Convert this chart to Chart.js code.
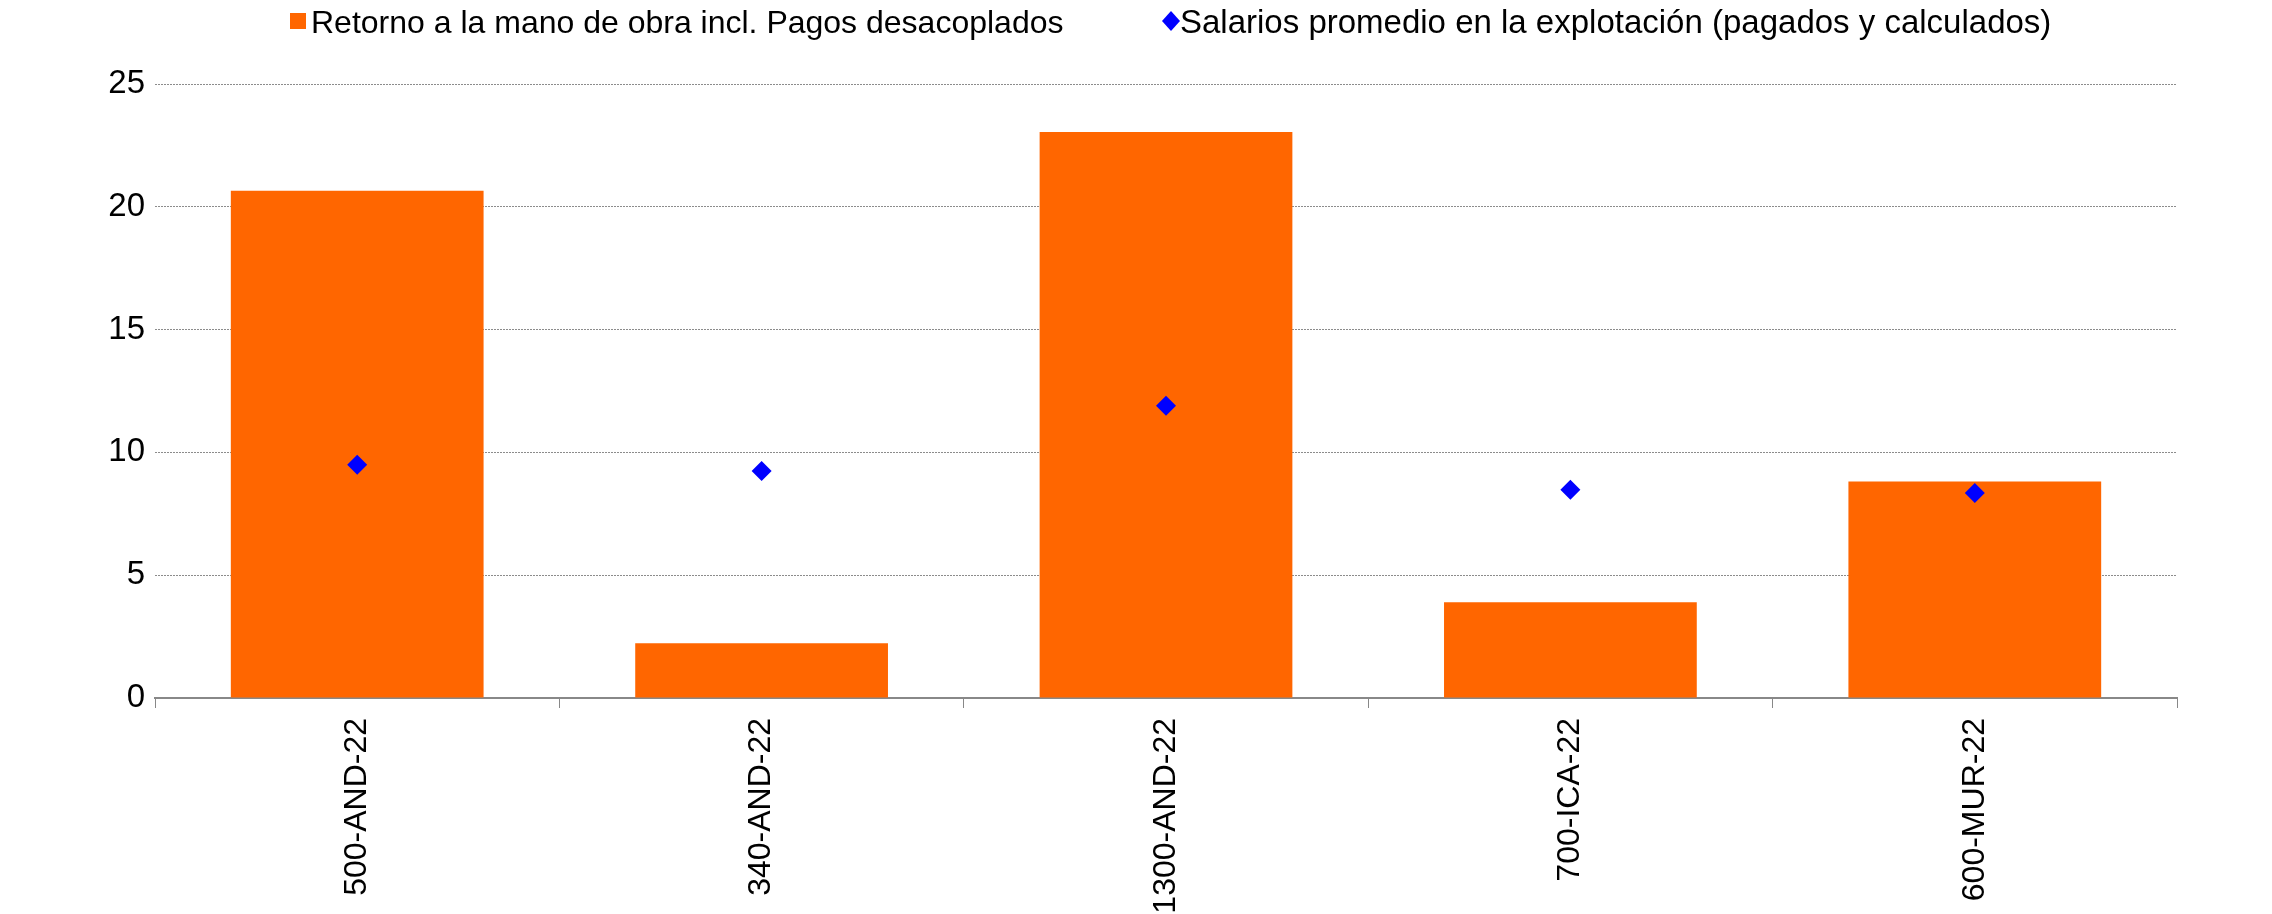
<!DOCTYPE html>
<html>
<head>
<meta charset="utf-8">
<script src="https://cdn.jsdelivr.net/npm/chart.js@4"></script>
<style>
  html, body { margin: 0; padding: 0; background: #fff; }
  #wrap { position: relative; width: 2272px; height: 914px; overflow: hidden; }
  canvas { position: absolute; left: 0; top: 0; }
  .leg { position: absolute; font-family: "Liberation Sans", Arial, sans-serif; font-size: 32px; color: #000; white-space: nowrap; line-height: 1; }
</style>
</head>
<body>
<div id="wrap">
  <canvas id="c" width="2272" height="914"></canvas>
  <div id="legend"></div>
</div>
<script>
const categories = ["500-AND-22", "340-AND-22", "1300-AND-22", "700-ICA-22", "600-MUR-22"];
const retornoManoObra = [20.65, 2.23, 23.05, 3.90, 8.82];
const salariosPromedio = [9.50, 9.24, 11.90, 8.48, 8.35];
const seriesNames = ["Retorno a la mano de obra incl. Pagos desacoplados", "Salarios promedio en la explotación (pagados y calculados)"];
const yTicks = [0, 5, 10, 15, 20, 25];

const ORANGE = "#FF6600";
const BLUE = "#0000FF";

// HTML legend
const legend = document.getElementById("legend");
legend.innerHTML =
  '<div style="position:absolute;left:290px;top:13px;width:16px;height:16px;background:' + ORANGE + '"></div>' +
  '<div class="leg" style="left:311px;top:6px;">' + seriesNames[0] + '</div>' +
  '<div style="position:absolute;left:1161px;top:11px;width:20px;height:20px;"><svg width="20" height="20" viewBox="0 0 20 20"><polygon points="10,0 19,10 10,20 1,10" fill="' + BLUE + '"/></svg></div>' +
  '<div class="leg" style="left:1180px;top:5px;font-size:33px;">' + seriesNames[1] + '</div>';

Chart.defaults.font.family = '"Liberation Sans", Arial, sans-serif';
Chart.defaults.color = "#000";

new Chart(document.getElementById("c"), {
  data: {
    labels: categories,
    datasets: [
      {
        type: "line",
        label: seriesNames[1],
        data: salariosPromedio,
        showLine: false,
        pointStyle: "rectRot",
        pointRadius: 10,
        pointHoverRadius: 10,
        pointBackgroundColor: BLUE,
        pointBorderColor: BLUE,
        pointBorderWidth: 0,
        order: 0
      },
      {
        type: "bar",
        label: seriesNames[0],
        data: retornoManoObra,
        backgroundColor: ORANGE,
        borderWidth: 0,
        barPercentage: 0.625,
        categoryPercentage: 1.0,
        order: 1
      }
    ]
  },
  options: {
    responsive: false,
    animation: false,
    layout: { padding: { left: 0, right: 95, top: 84, bottom: 0 } },
    plugins: {
      legend: { display: false },
      tooltip: { enabled: false }
    },
    scales: {
      x: {
        offset: true,
        grid: {
          offset: true,
          display: true,
          drawOnChartArea: false,
          drawTicks: true,
          tickLength: 10,
          color: "#888",
          lineWidth: 1
        },
        border: { display: true, color: "#888", width: 2 },
        ticks: {
          font: { size: 32 },
          color: "#000",
          minRotation: 90,
          maxRotation: 90,
          padding: 10,
          autoSkip: false
        },
        afterFit: (s) => { s.height = 914 - 698; }
      },
      y: {
        min: 0,
        max: 25,
        afterBuildTicks: (s) => { s.ticks = yTicks.map(v => ({ value: v })); },
        grid: {
          display: true,
          drawTicks: false,
          color: "#8c8c8c",
          lineWidth: 1
        },
        border: { display: false, dash: [2, 1] },
        ticks: {
          font: { size: 33 },
          color: "#000",
          padding: 10
        },
        afterFit: (s) => { s.width = 155; }
      }
    }
  }
});
</script>
</body>
</html>
